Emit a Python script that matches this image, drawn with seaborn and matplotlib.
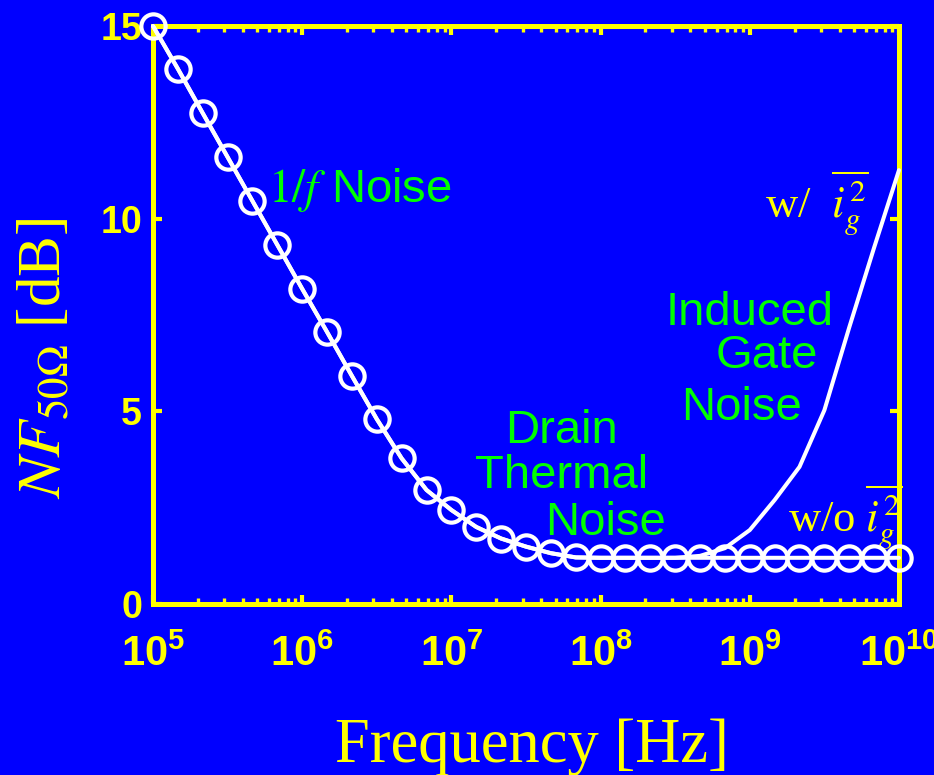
import matplotlib
matplotlib.use("Agg")
import matplotlib.pyplot as plt
import numpy as np
import pandas as pd
import seaborn as sns
from matplotlib.ticker import LogLocator, NullFormatter

# Frequency grid (Hz), six points per decade
freq_hz = [
    1.000e5, 1.468e5, 2.154e5, 3.162e5, 4.642e5, 6.813e5,
    1.000e6, 1.468e6, 2.154e6, 3.162e6, 4.642e6, 6.813e6,
    1.000e7, 1.468e7, 2.154e7, 3.162e7, 4.642e7, 6.813e7,
    1.000e8, 1.468e8, 2.154e8, 3.162e8, 4.642e8, 6.813e8,
    1.000e9, 1.468e9, 2.154e9, 3.162e9, 4.642e9, 6.813e9,
    1.000e10,
]

# 50-ohm noise figure (dB) without induced gate noise
nf_without_ig = [
    15.00, 13.89, 12.74, 11.60, 10.46, 9.32,
    8.18, 7.06, 5.92, 4.80, 3.78, 2.96,
    2.44, 2.00, 1.70, 1.49, 1.32, 1.21,
    1.20, 1.20, 1.20, 1.20, 1.20, 1.20,
    1.20, 1.20, 1.20, 1.20, 1.20, 1.20,
    1.20,
]

# 50-ohm noise figure (dB) including induced gate noise
nf_with_ig = [
    15.00, 13.89, 12.74, 11.60, 10.46, 9.32,
    8.18, 7.06, 5.92, 4.80, 3.78, 2.96,
    2.44, 2.00, 1.70, 1.49, 1.32, 1.21,
    1.20, 1.20, 1.20, 1.20, 1.25, 1.45,
    1.92, 2.70, 3.56, 5.03, 7.18, 9.25,
    11.26,
]

y_ticks = [0, 5, 10, 15]
x_ticks = [1e5, 1e6, 1e7, 1e8, 1e9, 1e10]

BLUE = "#0000FF"
YELLOW = "#FFFF00"
GREEN = "#00FF00"
WHITE = "#FFFFFF"

sns.set_theme(style="ticks", rc={
    "axes.facecolor": BLUE,
    "figure.facecolor": BLUE,
    "savefig.facecolor": BLUE,
})
plt.rcParams["font.family"] = ["Liberation Sans", "DejaVu Sans"]
plt.rcParams["font.weight"] = "normal"
plt.rcParams["mathtext.fontset"] = "custom"
plt.rcParams["mathtext.rm"] = "Liberation Sans:bold"
plt.rcParams["mathtext.it"] = "Liberation Sans:bold"
plt.rcParams["mathtext.bf"] = "Liberation Sans:bold"

df = pd.DataFrame({
    "freq": freq_hz,
    "nf_without": nf_without_ig,
    "nf_with": nf_with_ig,
})

fig = plt.figure(figsize=(9.34, 7.75), dpi=100)
ax = fig.add_axes([0.1638, 0.2206, 0.7987, 0.7458])

# Curve with induced gate noise: plain line
sns.lineplot(data=df, x="freq", y="nf_with", ax=ax, color=WHITE,
             linewidth=2.9, errorbar=None, clip_on=False, zorder=3)
# Curve without induced gate noise: line with open circles
sns.lineplot(data=df, x="freq", y="nf_without", ax=ax, color=WHITE,
             linewidth=2.9, marker="o", markersize=17.5,
             markerfacecolor="none", markeredgecolor=WHITE,
             markeredgewidth=3.0, errorbar=None, clip_on=False, zorder=4)

ax.set_xscale("log")
ax.set_xlim(1e5, 1e10)
ax.set_ylim(0, 15)
ax.set_xticks(x_ticks)
ax.xaxis.set_minor_locator(LogLocator(base=10, subs=np.arange(2, 10), numticks=50))
ax.xaxis.set_minor_formatter(NullFormatter())
ax.set_yticks(y_ticks)

for side in ["left", "right", "top", "bottom"]:
    ax.spines[side].set_visible(True)
    ax.spines[side].set_color(YELLOW)
    ax.spines[side].set_linewidth(3.6)

ax.tick_params(which="both", direction="in", top=True, right=True,
               color=YELLOW, labelcolor=YELLOW)
ax.tick_params(which="major", length=6.2, width=3)
ax.tick_params(which="minor", length=4.0, width=2.4)
ax.tick_params(axis="x", which="major", labelsize=30, pad=22)
ax.tick_params(axis="y", which="major", labelsize=27, pad=8)
for lbl in ax.get_xticklabels() + ax.get_yticklabels():
    lbl.set_fontweight("bold")

# Axis titles
ax.set_xlabel("Frequency [Hz]", fontsize=45, color=YELLOW,
              family="Liberation Serif", weight="normal", va="baseline")
ax.xaxis.set_label_coords(0.508, -0.2734)
ax.set_ylabel(r"$NF_{50\Omega}$ [dB]", fontsize=44, color=YELLOW,
              family="Liberation Serif", weight="normal",
              math_fontfamily="stix", va="baseline", ha="center")
ax.yaxis.set_label_coords(-0.1247, 0.4256)

# Region annotations
green_kw = dict(color=GREEN, fontsize=34, weight="normal",
                family="Liberation Sans", va="baseline")
ax.text(10**5.771, 10.43, r"$1/f$ Noise", ha="left",
        math_fontfamily="stix", **green_kw)
ax.text(10**7.738, 4.18, "Drain", ha="center", **green_kw)
ax.text(10**7.741, 3.01, "Thermal", ha="center", **green_kw)
ax.text(10**8.033, 1.79, "Noise", ha="center", **green_kw)
ax.text(10**9.001, 7.24, "Induced", ha="center", **green_kw)
ax.text(10**9.115, 6.125, "Gate", ha="center", **green_kw)
ax.text(10**8.944, 4.776, "Noise", ha="center", **green_kw)

# Curve labels
curve_kw = dict(color=YELLOW, fontsize=32, weight="normal",
                family="Liberation Serif", va="baseline", ha="left",
                math_fontfamily="stix")
ax.text(10**9.102, 10.02, r"w/  $\overline{i_g^2}$", **curve_kw)
ax.text(10**9.256, 1.87, r"w/o $\overline{i_g^2}$", clip_on=False, **curve_kw)

fig.savefig("out.png", dpi=100, facecolor=BLUE)
